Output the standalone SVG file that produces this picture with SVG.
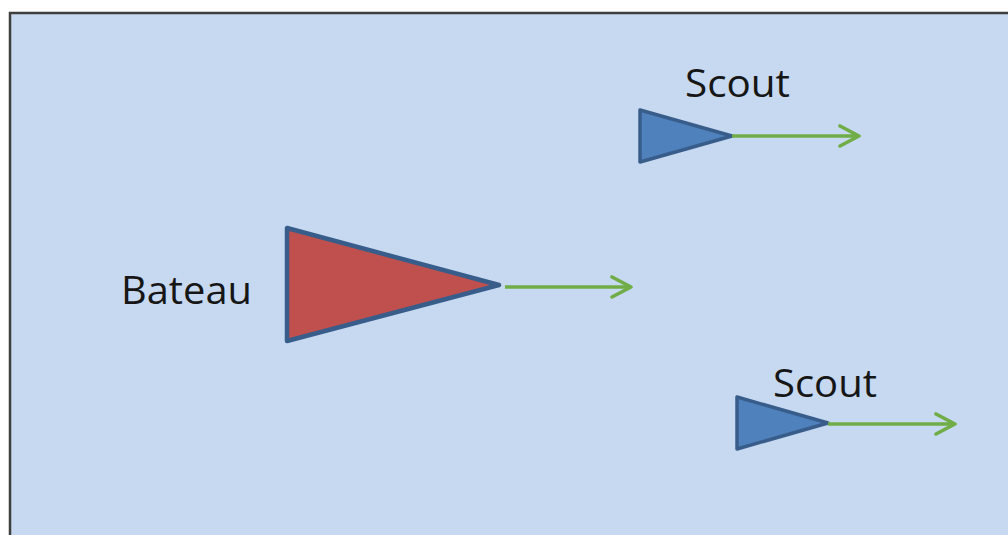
<svg xmlns="http://www.w3.org/2000/svg" width="1008" height="535" viewBox="0 0 1008 535">
  <defs>
    <style>
      .label { font-family: "Open Sans", "Liberation Sans", sans-serif; font-size: 38px; fill: #161616; }
      .scout { fill: #4f81bd; stroke: #385d8a; stroke-width: 3.5; stroke-linejoin: round; }
      .boat { fill: #c0504d; stroke: #385d8a; stroke-width: 4.5; stroke-linejoin: round; }
      .heading { stroke: #70ad47; stroke-width: 3.5; fill: none; }
    </style>
    <marker id="chevron" viewBox="0 0 24 24" refX="21" refY="12" markerWidth="24" markerHeight="24" markerUnits="userSpaceOnUse" orient="auto">
      <polyline points="2,2 21,12 2,22" fill="none" stroke="#70ad47" stroke-width="3.6" stroke-linecap="round" stroke-linejoin="round"/>
    </marker>
  </defs>

  <!-- sea area -->
  <rect x="0" y="0" width="1008" height="535" fill="#ffffff"/>
  <rect x="10" y="13" width="1010" height="540" fill="#c6d9f1" stroke="#3f3f3f" stroke-width="2.5"/>

  <g id="bateau">
    <polygon class="boat" points="287,228 287,341 499,285"/>
    <text class="label" x="121" y="304" textLength="131" lengthAdjust="spacingAndGlyphs">Bateau</text>
  </g>

  <g id="scout-1">
    <polygon class="scout" points="640,110 640,162 732,136"/>
    <text class="label" x="685" y="97" textLength="105" lengthAdjust="spacingAndGlyphs">Scout</text>
  </g>

  <g id="scout-2">
    <polygon class="scout" points="737,397 737,449 828,423"/>
    <text class="label" x="773" y="397" textLength="104" lengthAdjust="spacingAndGlyphs">Scout</text>
  </g>

  <g id="connectors">
    <line class="heading" x1="505" y1="287" x2="631" y2="287" marker-end="url(#chevron)"/>
    <line class="heading" x1="732" y1="136" x2="859" y2="136" marker-end="url(#chevron)"/>
    <line class="heading" x1="828" y1="424" x2="955" y2="424" marker-end="url(#chevron)"/>
  </g>
</svg>
